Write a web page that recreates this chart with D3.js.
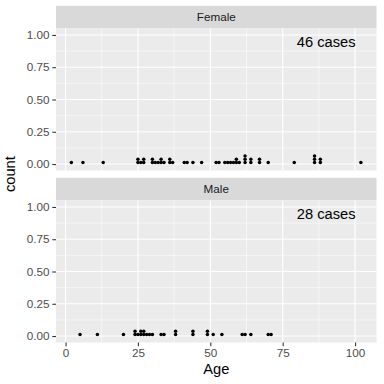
<!DOCTYPE html>
<html><head><meta charset="utf-8">
<script src="https://cdn.jsdelivr.net/npm/d3@7"></script>
<style>body{margin:0;background:#fff}svg{display:block}text{font-family:"Liberation Sans",Arial,sans-serif}</style>
</head><body><svg id="c" width="384" height="384"></svg>
<script>
// Data
const panels = ["Female", "Male"];
const femaleAges = [2,6,13,25,25,26,27,27,30,30,31,32,33,33,34,36,36,37,41,42,44,47,52,53,55,56,57,58,59,59,60,62,62,62,64,64,67,67,70,79,86,86,86,88,88,102];
const maleAges = [5,11,20,24,24,25,26,26,27,27,28,29,30,33,34,38,38,44,44,49,49,51,54,61,62,64,70,71];
const caseLabels = ["46 cases", "28 cases"];
const xTicks = [0,25,50,75,100];
const yTicks = [0,0.25,0.5,0.75,1];
const yTickLabels = ["0.00","0.25","0.50","0.75","1.00"];

const svg = d3.select("#c");
const L = 56, R = 376.5;
const panelH = 142, stripH = 22.7, spacing = 7.3;
const top1 = 28.5, top2 = top1 + panelH + spacing + stripH;
const x = d3.scaleLinear().domain([-3.3, 107.4]).range([L, R]);
const xMinor = [12.5,37.5,62.5,87.5];
const yMinor = [0.125,0.375,0.625,0.875];
const dotR = 1.75, step = 3.3;

[femaleAges, maleAges].forEach((ages, i) => {
  const top = i === 0 ? top1 : top2;
  const y = d3.scaleLinear().domain([-0.05, 1.05]).range([top + panelH, top]);
  const g = svg.append("g");
  // strip
  g.append("rect").attr("x", L).attr("y", top - stripH).attr("width", R - L).attr("height", stripH).attr("fill", "#D9D9D9");
  g.append("text").attr("x", (L + R) / 2).attr("y", top - stripH / 2).attr("dy", "0.35em")
    .attr("text-anchor", "middle").attr("font-size", 11.7).attr("fill", "#1A1A1A").text(panels[i]);
  // panel
  g.append("rect").attr("x", L).attr("y", top).attr("width", R - L).attr("height", panelH).attr("fill", "#EBEBEB");
  g.selectAll(".xm").data(xMinor).join("line").attr("x1", d => x(d)).attr("x2", d => x(d))
    .attr("y1", top).attr("y2", top + panelH).attr("stroke", "#fff").attr("stroke-width", 0.55);
  g.selectAll(".ym").data(yMinor).join("line").attr("y1", d => y(d)).attr("y2", d => y(d))
    .attr("x1", L).attr("x2", R).attr("stroke", "#fff").attr("stroke-width", 0.55);
  g.selectAll(".xM").data(xTicks).join("line").attr("x1", d => x(d)).attr("x2", d => x(d))
    .attr("y1", top).attr("y2", top + panelH).attr("stroke", "#fff").attr("stroke-width", 1.1);
  g.selectAll(".yM").data(yTicks).join("line").attr("y1", d => y(d)).attr("y2", d => y(d))
    .attr("x1", L).attr("x2", R).attr("stroke", "#fff").attr("stroke-width", 1.1);
  // y axis
  const ya = d3.axisLeft(y).tickValues(yTicks).tickFormat((d, k) => yTickLabels[k]).tickSize(3.7).tickPadding(2.9);
  const yg = g.append("g").attr("transform", `translate(${L},0)`).call(ya);
  yg.select(".domain").remove();
  yg.selectAll("line").attr("stroke", "#333333").attr("stroke-width", 1.07);
  yg.selectAll("text").attr("font-size", 11.7).attr("fill", "#4D4D4D").attr("font-family", "Liberation Sans, Arial, sans-serif");
  // dots (stacked)
  const counts = {};
  const pts = ages.map(a => { counts[a] = (counts[a] || 0) + 1; return {a, k: counts[a] - 1}; });
  g.selectAll(".dot").data(pts).join("circle")
    .attr("cx", d => x(d.a)).attr("cy", d => y(0) - dotR - d.k * step + 0.3)
    .attr("r", dotR).attr("fill", "#000");
  // annotation
  g.append("text").attr("x", x(90)).attr("y", y(0.95)).attr("dy", "0.35em").attr("text-anchor", "middle")
    .attr("font-size", 14.7).attr("fill", "#000").text(caseLabels[i]);
  if (i === 1) {
    const xa = d3.axisBottom(x).tickValues(xTicks).tickSize(3.7).tickPadding(2.9);
    const xg = g.append("g").attr("transform", `translate(0,${top + panelH})`).call(xa);
    xg.select(".domain").remove();
    xg.selectAll("line").attr("stroke", "#333333").attr("stroke-width", 1.07);
    xg.selectAll("text").attr("font-size", 11.7).attr("fill", "#4D4D4D").attr("font-family", "Liberation Sans, Arial, sans-serif");
  }
});
svg.append("text").attr("x", (L + R) / 2).attr("y", 374).attr("text-anchor", "middle")
  .attr("font-size", 14.7).attr("fill", "#000").text("Age");
svg.append("text").attr("transform", `translate(15,${(top1 - stripH + top2 + panelH) / 2}) rotate(-90)`)
  .attr("text-anchor", "middle").attr("font-size", 14.7).attr("fill", "#000").text("count");
</script></body></html>
